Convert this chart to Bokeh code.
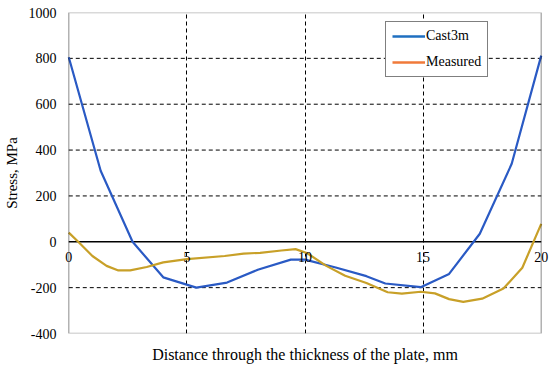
from bokeh.plotting import figure
from bokeh.models import Range1d, FixedTicker, Legend, LegendItem, LabelSet, ColumnDataSource, BoxAnnotation
from bokeh.embed import file_html
from bokeh.resources import INLINE

# Data
cast_x = [0, 1.35, 2.7, 4.0, 5.4, 6.7, 8.0, 9.4, 10.0, 11.3, 12.6, 13.4, 14.9, 16.1, 17.4, 18.75, 20]
cast_y = [805, 310, 0, -155, -200, -178, -122, -78, -78, -112, -150, -182, -198, -140, 35, 340, 812]
meas_x = [0, 0.4, 1.0, 1.6, 2.1, 2.6, 3.3, 4.0, 5.0, 6.6, 7.4, 8.1, 9.0, 9.6, 10.1, 10.9, 11.7, 12.6, 13.5, 14.1, 14.9, 15.5, 16.1, 16.7, 17.5, 18.4, 19.2, 20]
meas_y = [40, 0, -62, -105, -125, -125, -110, -90, -76, -62, -52, -48, -38, -32, -50, -105, -148, -180, -220, -226, -218, -225, -250, -262, -248, -204, -113, 78]
x_ticks = [0, 5, 10, 15, 20]
y_ticks = [-400, -200, 0, 200, 400, 600, 800, 1000]
series_names = ["Cast3m", "Measured"]

SERIF = "Liberation Serif"
x0, x1 = x_ticks[0], x_ticks[-1]
y0, y1 = y_ticks[0], y_ticks[-1]
pad = 0.35  # room for the end tick labels

p = figure(width=557 - 8, height=367, output_backend="svg", toolbar_location=None,
           x_range=Range1d(x0 - pad, x1 + pad), y_range=Range1d(y0, y1),
           frame_width=489, frame_height=321,
           min_border_left=60, min_border_right=0, min_border_top=12, min_border_bottom=34)
p.background_fill_color = "white"
p.border_fill_color = "white"
p.outline_line_color = None
p.min_border_right = 0

# plot-area box
p.add_layout(BoxAnnotation(left=x0, right=x1, bottom=y0, top=y1,
                           fill_alpha=0, line_color="black", line_width=1.5))

# vertical dashed grid
p.xgrid.ticker = FixedTicker(ticks=[t for t in x_ticks if x0 < t < x1])
p.xgrid.grid_line_color = "black"
p.xgrid.grid_line_dash = "4 3"
p.xgrid.grid_line_width = 1
p.ygrid.grid_line_color = None

# horizontal dashed grid, limited to the plot box
hy = [t for t in y_ticks if y0 < t < y1 and t != 0]
p.segment(x0=[x0] * len(hy), x1=[x1] * len(hy), y0=hy, y1=hy,
          line_color="black", line_dash="4 3", line_width=1)
# solid zero line
p.segment(x0=[x0], x1=[x1], y0=[0], y1=[0], line_color="black", line_width=1.5)

# y axis
p.yaxis.ticker = FixedTicker(ticks=y_ticks)
p.yaxis.major_label_overrides = {t: str(t) for t in y_ticks}
p.yaxis.axis_line_color = None
p.yaxis.major_tick_line_color = None
p.yaxis.minor_tick_line_color = None
p.yaxis.major_tick_out = 0
p.yaxis.major_tick_in = 0
p.yaxis.minor_tick_out = 0
p.yaxis.minor_tick_in = 0
p.yaxis.major_label_text_font = SERIF
p.yaxis.major_label_text_font_size = "14px"
p.yaxis.major_label_text_color = "black"
p.yaxis.major_label_standoff = 4
p.yaxis.axis_label = "Stress, MPa"
p.yaxis.axis_label_text_font = SERIF
p.yaxis.axis_label_text_font_size = "15px"
p.yaxis.axis_label_text_font_style = "normal"
p.yaxis.axis_label_text_color = "black"
p.yaxis.axis_label_standoff = 6

# x axis: only the title below
p.xaxis.ticker = FixedTicker(ticks=[])
p.xaxis.axis_line_color = None
p.xaxis.major_tick_line_color = None
p.xaxis.minor_tick_line_color = None
p.xaxis.major_tick_out = 0
p.xaxis.major_tick_in = 0
p.xaxis.major_label_text_font_size = "0px"
p.xaxis.axis_label = "Distance through the thickness of the plate, mm"
p.xaxis.axis_label_text_font = SERIF
p.xaxis.axis_label_text_font_size = "16px"
p.xaxis.axis_label_text_font_style = "normal"
p.xaxis.axis_label_text_color = "black"
p.xaxis.axis_label_standoff = 12

# x tick labels just under the y=0 line
xl_src = ColumnDataSource(data=dict(x=x_ticks, y=[0] * len(x_ticks), t=[str(t) for t in x_ticks]))
p.add_layout(LabelSet(x="x", y="y", text="t", source=xl_src,
                      text_font=SERIF, text_font_size="14px", text_align="center",
                      text_baseline="top", y_offset=-10, text_color="black"))

l1 = p.line(cast_x, cast_y, line_color="#2A5AC4", line_width=2.2)
l2 = p.line(meas_x, meas_y, line_color="#C8A028", line_width=2.2)

# legend swatches in the legend colours (not drawn in the plot)
nan = float("nan")
d1 = p.line(x=[nan], y=[nan], line_color="#1F6FC0", line_width=2.5)
d2 = p.line(x=[nan], y=[nan], line_color="#F07A3A", line_width=2.5)

legend = Legend(items=[LegendItem(label=series_names[0], renderers=[d1]),
                       LegendItem(label=series_names[1], renderers=[d2])],
                location=(325, 256))
legend.label_text_font = SERIF
legend.label_text_font_size = "14px"
legend.label_text_color = "black"
legend.glyph_width = 33
legend.glyph_height = 14
legend.label_standoff = 1
legend.spacing = 10
legend.padding = 6
legend.margin = 0
legend.border_line_color = "black"
legend.border_line_width = 1.5
legend.background_fill_alpha = 1
p.add_layout(legend, "center")

open("out.html", "w").write(file_html(p, INLINE))
